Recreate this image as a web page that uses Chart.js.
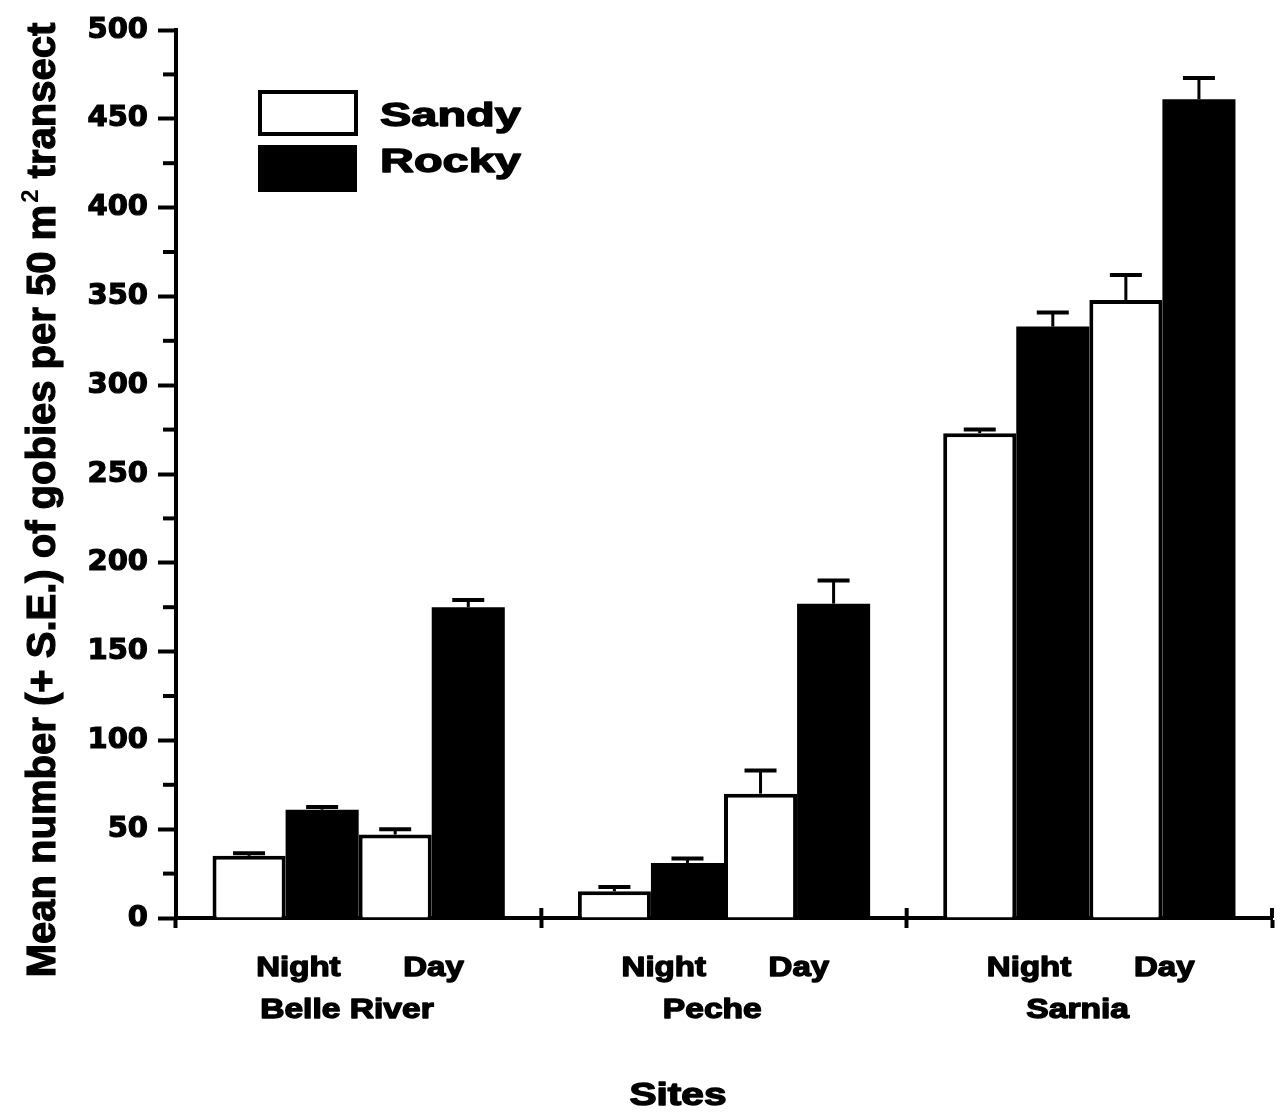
<!DOCTYPE html>
<html>
<head>
<meta charset="utf-8">
<script src="https://cdn.jsdelivr.net/npm/chart.js@4.4.1/dist/chart.umd.min.js"></script>
<style>
  body { margin: 0; background: #fff; }
  canvas { display: block; }
</style>
</head>
<body>
<canvas id="myChart" width="1280" height="1117"></canvas>
<script>
// datos
const sites = ['Belle River', 'Peche', 'Sarnia'];
const sandyNight = [35, 15, 273];
const rockyNight = [61, 31, 333];
const sandyDay = [47, 70, 348];
const rockyDay = [175, 177, 461];
// error estandar (solo la barra superior)
const sandyNightSE = [1.5, 2.5, 2];
const rockyNightSE = [1.5, 2.5, 8];
const sandyDaySE = [3, 13, 14];
const rockyDaySE = [4, 13, 12];
const yTicks = [0, 50, 100, 150, 200, 250, 300, 350, 400, 450, 500];
const legendLabels = ['Sandy', 'Rocky'];
const periodLabels = ['Night', 'Day'];
const yTitle = ['Mean number (+ S.E.) of gobies per 50 m', '2', ' transect'];
const xTitle = 'Sites';

const errores = [sandyNightSE, rockyNightSE, sandyDaySE, rockyDaySE];

function texto(ctx, s, x, y, size, sx, align) {
    ctx.save();
    ctx.font = 'bold ' + size + 'px "Liberation Sans", Arial, sans-serif';
    ctx.fillStyle = '#000';
    ctx.strokeStyle = '#000';
    ctx.lineWidth = 1.4;
    ctx.lineJoin = 'round';
    ctx.textAlign = align || 'center';
    ctx.textBaseline = 'alphabetic';
    ctx.translate(x, y);
    ctx.scale(sx, 1);
    ctx.fillText(s, 0, 0);
    ctx.strokeText(s, 0, 0);
    ctx.restore();
}

/*** Barras de error ***/
const errorBars = {
    id: 'errorBars',
    afterDatasetsDraw(chart) {
        const ctx = chart.ctx;
        const yScale = chart.scales.y;
        ctx.save();
        ctx.strokeStyle = '#000';
        chart.data.datasets.forEach(function (ds, d) {
            const meta = chart.getDatasetMeta(d);
            meta.data.forEach(function (bar, i) {
                const top = yScale.getPixelForValue(ds.data[i] + errores[d][i]);
                ctx.lineWidth = 3;
                ctx.beginPath();
                ctx.moveTo(bar.x, bar.y);
                ctx.lineTo(bar.x, top);
                ctx.stroke();
                ctx.lineWidth = 4;
                ctx.beginPath();
                ctx.moveTo(bar.x - 16, top);
                ctx.lineTo(bar.x + 16, top);
                ctx.stroke();
            });
        });
        ctx.restore();
    }
};

/*** Textos, leyenda y marcas menores ***/
const extras = {
    id: 'extras',
    afterDraw(chart) {
        const ctx = chart.ctx;
        const area = chart.chartArea;
        const x = chart.scales.x;
        const y = chart.scales.y;
        const catW = x.width / sites.length;

        // marcas menores eje y
        ctx.save();
        ctx.strokeStyle = '#000';
        ctx.lineWidth = 4;
        for (let v = 25; v < 500; v += 50) {
            const py = y.getPixelForValue(v);
            ctx.beginPath();
            ctx.moveTo(area.left - 13, py);
            ctx.lineTo(area.left, py);
            ctx.stroke();
        }
        // marcas eje x hacia arriba
        for (let i = 0; i <= sites.length; i++) {
            const px = x.left + i * catW;
            ctx.beginPath();
            ctx.moveTo(px, area.bottom - 10);
            ctx.lineTo(px, area.bottom);
            ctx.stroke();
        }
        ctx.restore();

        // etiquetas Night / Day y sitios
        sites.forEach(function (s, i) {
            const left = x.getPixelForValue(i) - catW / 2;
            texto(ctx, periodLabels[0], left + catW * 0.335, area.bottom + 58, 28, 1.18);
            texto(ctx, periodLabels[1], left + catW * 0.705, area.bottom + 58, 28, 1.18);
            texto(ctx, s, left + catW * 0.468, area.bottom + 100, 28, 1.2);
        });

        // titulo eje x
        texto(ctx, xTitle, 678, 1105, 32, 1.27);

        // titulo eje y con superindice
        ctx.save();
        ctx.fillStyle = '#000';
        ctx.strokeStyle = '#000';
        ctx.lineWidth = 1.2;
        ctx.textBaseline = 'alphabetic';
        ctx.textAlign = 'left';
        ctx.translate(55, 500);
        ctx.rotate(-Math.PI / 2);
        ctx.font = 'bold 40px "Liberation Sans", Arial, sans-serif';
        const w1 = ctx.measureText(yTitle[0]).width;
        const w3 = ctx.measureText(yTitle[2]).width;
        ctx.font = 'bold 24px "Liberation Sans", Arial, sans-serif';
        const w2 = ctx.measureText(yTitle[1]).width + 2;
        const start = -(w1 + w2 + w3) / 2;
        ctx.font = 'bold 40px "Liberation Sans", Arial, sans-serif';
        ctx.fillText(yTitle[0], start, 0);
        ctx.strokeText(yTitle[0], start, 0);
        ctx.fillText(yTitle[2], start + w1 + w2, 0);
        ctx.strokeText(yTitle[2], start + w1 + w2, 0);
        ctx.font = 'bold 24px "Liberation Sans", Arial, sans-serif';
        ctx.fillText(yTitle[1], start + w1 + 2, -17);
        ctx.restore();

        // leyenda
        const lx = area.left + 84;
        const ly = area.top + 62;
        ctx.save();
        ctx.strokeStyle = '#000';
        ctx.lineWidth = 4;
        ctx.fillStyle = '#fff';
        ctx.fillRect(lx, ly, 96, 42);
        ctx.strokeRect(lx, ly, 96, 42);
        ctx.fillStyle = '#000';
        ctx.fillRect(lx - 2, ly + 53, 99, 47);
        ctx.restore();
        texto(ctx, legendLabels[0], lx + 120, ly + 34, 34, 1.38, 'left');
        texto(ctx, legendLabels[1], lx + 120, ly + 80, 34, 1.38, 'left');
    }
};

function serie(label, data, fill) {
    return {
        label: label,
        data: data,
        backgroundColor: fill ? '#000' : '#fff',
        borderColor: '#000',
        borderWidth: fill ? 0 : 4,
        categoryPercentage: 0.8,
        barPercentage: 1.0
    };
}

const ctx = document.getElementById('myChart').getContext('2d');
new Chart(ctx, {
    type: 'bar',
    data: {
        labels: sites,
        datasets: [
            serie('Sandy Night', sandyNight, false),
            serie('Rocky Night', rockyNight, true),
            serie('Sandy Day', sandyDay, false),
            serie('Rocky Day', rockyDay, true)
        ]
    },
    options: {
        responsive: false,
        animation: false,
        layout: { padding: { top: 30, right: 8, bottom: 0, left: 0 } },
        plugins: {
            legend: { display: false },
            tooltip: { enabled: false }
        },
        scales: {
            x: {
                offset: true,
                grid: {
                    offset: true,
                    drawOnChartArea: false,
                    drawTicks: true,
                    tickLength: 10,
                    tickWidth: 4,
                    tickColor: '#000'
                },
                border: { color: '#000', width: 4 },
                ticks: { display: false },
                afterFit: function (scale) { scale.height = 199; }
            },
            y: {
                min: 0,
                max: 500,
                afterBuildTicks: function (scale) {
                    scale.ticks = yTicks.map(function (v) { return { value: v }; });
                },
                grid: {
                    drawOnChartArea: false,
                    tickLength: 18,
                    tickWidth: 4,
                    tickColor: '#000'
                },
                border: { color: '#000', width: 4 },
                ticks: {
                    color: '#000',
                    padding: 10,
                    textStrokeColor: '#000',
                    textStrokeWidth: 1.2,
                    font: { family: '"DejaVu Sans"', weight: 'bold', size: 29 }
                },
                afterFit: function (scale) { scale.width = 176; }
            }
        }
    },
    plugins: [errorBars, extras]
});
</script>
</body>
</html>
